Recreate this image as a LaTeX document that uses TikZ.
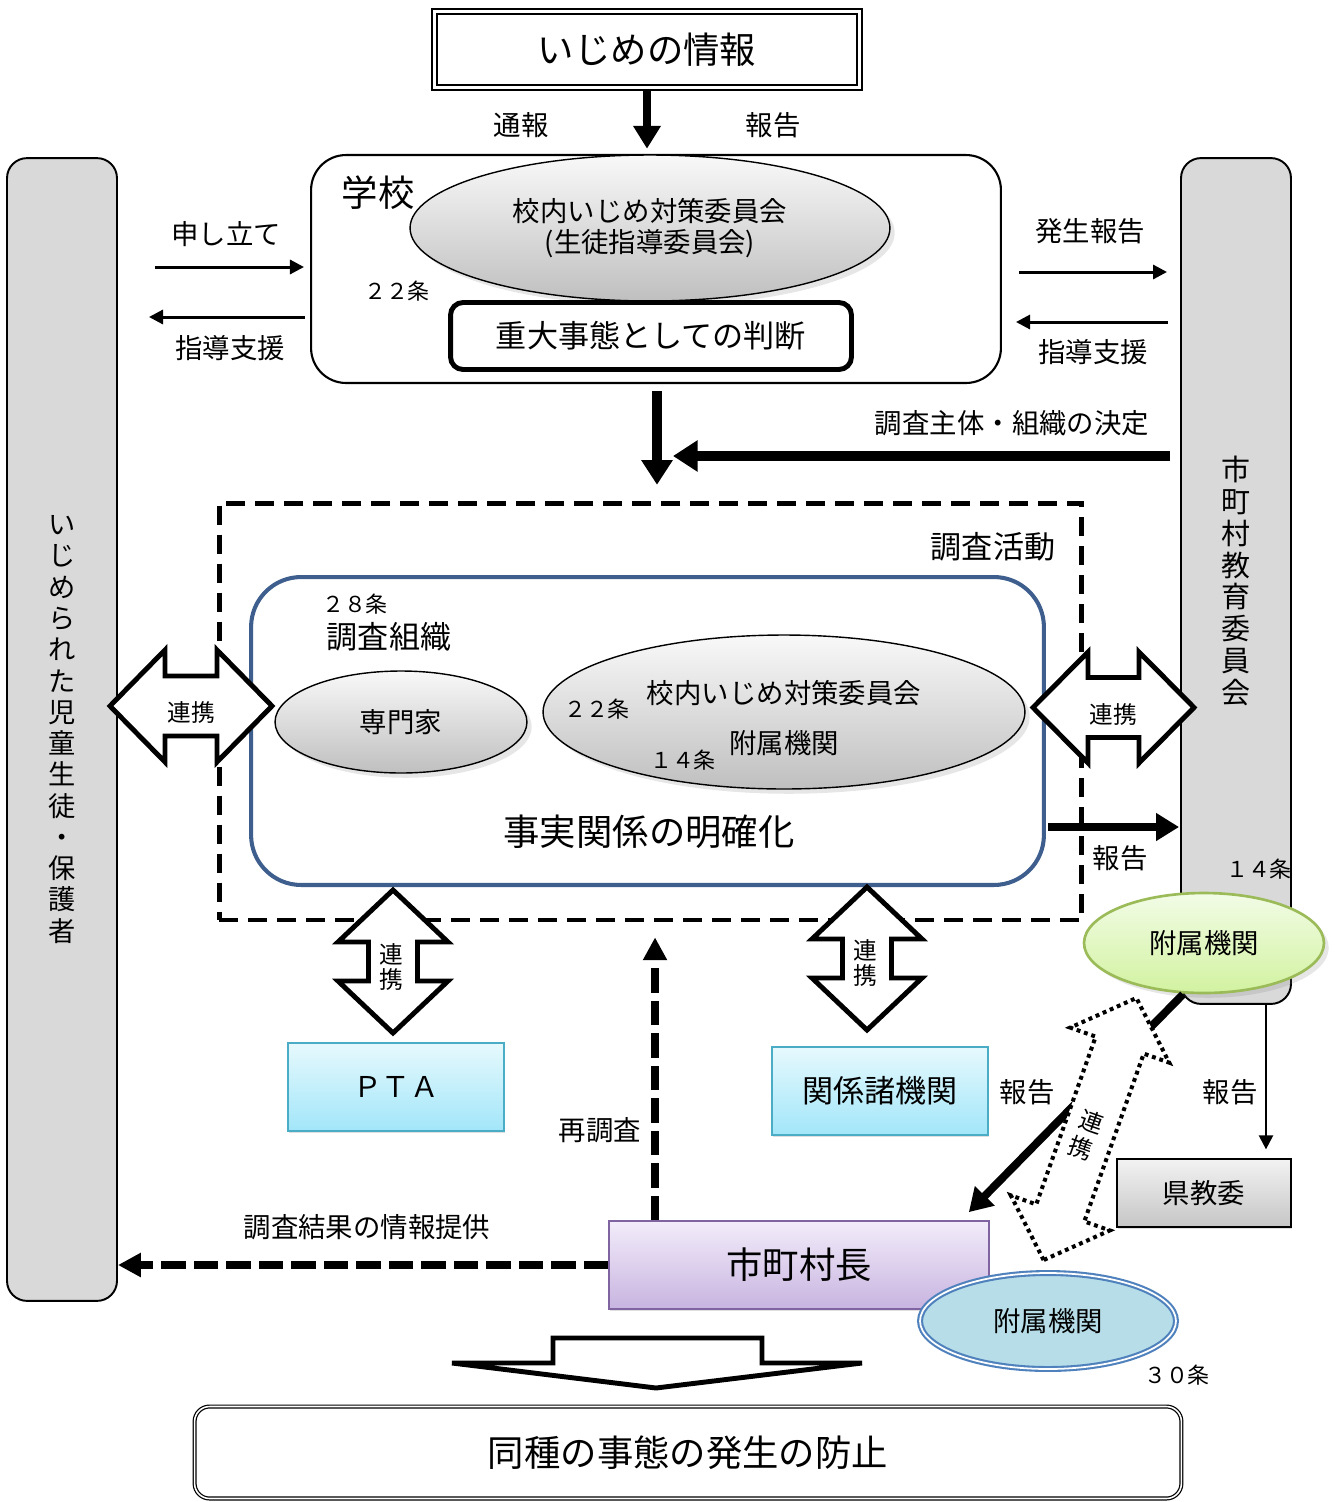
\documentclass[tikz,border=0pt]{standalone}
\usepackage{fontspec}
\setmainfont{Noto Sans CJK JP}
\usepackage{tikz}
\usetikzlibrary{arrows.meta, positioning, calc, shapes.geometric, shadows}

\definecolor{barGray}{HTML}{D9D9D9}
\definecolor{frameBlue}{HTML}{3E5F8E}
\definecolor{ptaLine}{HTML}{4BACC6}
\definecolor{ptaTop}{HTML}{E6F9FD}
\definecolor{ptaBottom}{HTML}{A2E6F9}
\definecolor{mayorLine}{HTML}{8064A2}
\definecolor{mayorTop}{HTML}{F2ECFA}
\definecolor{mayorBottom}{HTML}{C8B4E0}
\definecolor{annexGreenLine}{HTML}{9BBB59}
\definecolor{annexGreenTop}{HTML}{F2FCE6}
\definecolor{annexGreenBottom}{HTML}{D2F2A0}
\definecolor{annexBlue}{HTML}{B7DEE8}
\definecolor{annexBlueLine}{HTML}{4F81BD}

\tikzset{
  txtS/.style={font=\fontsize{12.5}{15}\selectfont},
  txtM/.style={font=\fontsize{15.6}{18}\selectfont},
  txtL/.style={font=\fontsize{17.7}{21}\selectfont},
  txtXL/.style={font=\fontsize{20.7}{25}\selectfont},
  linkTxt/.style={font=\fontsize{13.5}{14.5}\selectfont, align=center},
  grayOval/.style={ellipse, draw, line width=0.8pt, top color=gray!5, bottom color=gray!50, drop shadow={opacity=0.2}},
  sideBar/.style={draw, line width=1.1pt, fill=barGray, rounded corners=0.4cm, minimum width=2.2cm, align=center},
  glossBox/.style={rectangle, line width=1pt, drop shadow={opacity=0.25, shadow xshift=0.6pt, shadow yshift=-1.2pt}},
  thinArrow/.style={line width=1.7pt, -{Triangle[length=8pt,width=8pt]}},
  boldArrow/.style={line width=4.5pt, -{Triangle[length=13pt,width=15pt]}},
  heavyArrow/.style={line width=5.8pt, -{Triangle[length=14pt,width=17pt]}},
  dashArrow/.style={line width=4.4pt, dash pattern=on 14pt off 4.5pt, -{Triangle[length=13pt,width=13pt]}},
  linkArrow/.style={draw, fill=white, line width=2.8pt, line join=miter},
  pics/twoway/.style n args={4}{code={
    \draw[fill=white, pic actions] ({-#1/2},0) -- ({-#1/2+#4},{-#2/2}) -- ({-#1/2+#4},{-#3/2})
      -- ({#1/2-#4},{-#3/2}) -- ({#1/2-#4},{-#2/2}) -- ({#1/2},0)
      -- ({#1/2-#4},{#2/2}) -- ({#1/2-#4},{#3/2}) -- ({-#1/2+#4},{#3/2})
      -- ({-#1/2+#4},{#2/2}) -- cycle;
  }},
}

\begin{document}
\begin{tikzpicture}[x=0.02cm, y=-0.02cm, every node/.style={txtM}]
    \useasboundingbox (0,0) rectangle (1335,1502);

    % Define nodes: top part
    \node[draw, double, double distance=1.8pt, line width=0.9pt, minimum width=8.5cm, minimum height=1.52cm, txtXL] (info) at (647,49.5) {いじめの情報};
    \node[draw, line width=1.2pt, rounded corners=0.7cm, minimum width=13.8cm, minimum height=4.56cm] (school) at (656,269) {};
    \node[txtXL] at (378,193) {学校};
    \node[grayOval, minimum width=9.6cm, minimum height=2.92cm, align=center, font=\fontsize{15.6}{17.6}\selectfont] (committee) at (650,228) {校内いじめ対策委員会\\(生徒指導委員会)};
    \node[txtS] at (397,291) {２２条};
    \node[draw, fill=white, line width=2.8pt, rounded corners=0.25cm, minimum width=8.02cm, minimum height=1.34cm, txtL] (judge) at (651,336) {重大事態としての判断};

    % Define the two side bars
    \node[sideBar, minimum height=22.86cm, font=\fontsize{15.5}{17.8}\selectfont] (victim) at (62,729.5) {い\\じ\\め\\ら\\れ\\た\\児\\童\\生\\徒\\・\\保\\護\\者};
    \node[sideBar, minimum height=16.92cm, font=\fontsize{16.5}{18.1}\selectfont] (board) at (1236,581) {市\\町\\村\\教\\育\\委\\員\\会};

    % Arrows between the school and the side bars
    \coordinate (appealS) at (155,267);
    \coordinate (guideL) at (305,317);
    \coordinate (occurS) at (1019,272);
    \coordinate (guideR) at (1168,322);
    \draw[thinArrow] (appealS) -- ([xshift=-0.12cm]appealS -| school.west);
    \draw[thinArrow] (guideL) -- ([xshift=0.62cm]guideL -| victim.east);
    \draw[thinArrow] (occurS) -- ([xshift=-0.26cm]occurS -| board.west);
    \draw[thinArrow] (guideR) -- ([xshift=0.28cm]guideR -| school.east);
    \node at (226,234) {申し立て};
    \node at (230,348) {指導支援};
    \node at (1090,231) {発生報告};
    \node at (1093,352) {指導支援};

    \draw[boldArrow, shorten <=1.5pt, shorten >=3pt] (info.south) -- (info.south |- school.north);
    \node at (521,125) {通報};
    \node at (773,125) {報告};

    % Investigation frame
    \node[draw, line width=2.8pt, dash pattern=on 11pt off 5.5pt, minimum width=17.26cm, minimum height=8.34cm] (probe) at (650.5,711.5) {};
    \node[txtL] at (993,547) {調査活動};
    \draw[heavyArrow, shorten <=4pt, shorten >=9pt] ([xshift=0.02cm]school.south) -- ([xshift=0.02cm]school.south |- probe.north);
    \coordinate (decideR) at (1170,456);
    \draw[heavyArrow] (decideR) -- ([xshift=0.34cm]decideR -| school.south);
    \node at (1012,423) {調査主体・組織の決定};

    \node[draw=frameBlue, line width=2.3pt, rounded corners=1cm, minimum width=15.86cm, minimum height=6.16cm] (fact) at (647.5,731) {};
    \node[txtS] at (355,604) {２８条};
    \node[txtL] at (389,637) {調査組織};
    \node[grayOval, minimum width=5.04cm, minimum height=2.04cm] (expert) at (401,722) {専門家};
    \node[grayOval, minimum width=9.64cm, minimum height=3.08cm] (orgCommittee) at (784,712) {};
    \node at (784,693) {校内いじめ対策委員会};
    \node at (784,743) {附属機関};
    \node[txtS] at (597,709) {２２条};
    \node[txtS] at (683,760) {１４条};
    \node[txtXL] at (649,832) {事実関係の明確化};

    % Link arrows
    \pic[linkArrow] at (191,706) {twoway={162}{112}{60}{55}};
    \node[linkTxt] at (191,712) {連携};
    \pic[linkArrow] at (1113.5,707.5) {twoway={161}{111}{60}{55}};
    \node[linkTxt] at (1113,714) {連携};

    \coordinate (reportS) at (1048,827);
    \draw[boldArrow] (reportS) -- ([xshift=-0.02cm]reportS -| board.west);
    \node at (1120,858) {報告};
    \node[txtS] at (1259,869) {１４条};

    \node[ellipse, draw=annexGreenLine, line width=1.5pt, top color=annexGreenTop, bottom color=annexGreenBottom, minimum width=4.8cm, minimum height=2cm, drop shadow={opacity=0.2}] (boardAnnex) at (1204,943) {附属機関};

    \pic[linkArrow, rotate=90] at (393,961.5) {twoway={143}{110}{49}{52}};
    \node[linkTxt] at (391,967) {連\\携};
    \pic[linkArrow, rotate=90] at (867,958.5) {twoway={143}{110}{49}{52}};
    \node[linkTxt] at (865,963) {連\\携};

    % Lower boxes
    \node[glossBox, draw=ptaLine, top color=ptaTop, bottom color=ptaBottom, minimum width=4.32cm, minimum height=1.76cm, font=\fontsize{16.3}{19}\selectfont] (pta) at (396,1087) {ＰＴＡ};
    \node[glossBox, draw=ptaLine, top color=ptaTop, bottom color=ptaBottom, minimum width=4.32cm, minimum height=1.76cm, txtL] (agencies) at (880,1091) {関係諸機関};
    \node[glossBox, draw=mayorLine, top color=mayorTop, bottom color=mayorBottom, minimum width=7.6cm, minimum height=1.76cm, txtXL] (mayor) at (799,1265) {市町村長};
    \node[glossBox, draw=black, top color=gray!10, bottom color=gray!45, minimum width=3.48cm, minimum height=1.36cm] (pref) at (1204,1193) {県教委};
    \node[ellipse, draw=annexBlueLine, double=white, double distance=1pt, line width=1.2pt, fill=annexBlue, minimum width=5.12cm, minimum height=1.92cm] (mayorAnnex) at (1048,1321) {附属機関};
    \node[txtS] at (1177,1375) {３０条};

    % Arrows from the mayor
    \draw[dashArrow, shorten >=8.5pt] ([xshift=-2.88cm]mayor.north) -- ([xshift=-2.88cm]mayor.north |- probe.south);
    \node at (600,1130) {再調査};
    \draw[dashArrow] (mayor.west) -- (mayor.west -| victim.east);
    \node at (367,1227) {調査結果の情報提供};

    \draw[boldArrow] ([xshift=-0.42cm]boardAnnex.south) -- ([shift={(-21,-8)}]mayor.north east);
    \node at (1027,1092) {報告};
    \pic[linkArrow, dash pattern=on 2.2pt off 2.2pt, line width=2.3pt, rotate=70.5] at (1090,1129) {twoway={278}{105}{51}{50}};
    \node[linkTxt, rotate=-19.5] at (1092,1122) {連};
    \node[linkTxt, rotate=-19.5] at (1081,1148) {携};

    \draw[thinArrow, line width=1.4pt, shorten >=5pt] ([xshift=0.6cm]board.south) -- ([xshift=0.6cm]board.south |- pref.north);
    \node at (1230,1092) {報告};

    % Result
    \draw[line width=2.8pt, fill=white, line join=miter] (553,1338) -- (762,1338) -- (762,1363) -- (862,1363) -- (656,1388) -- (452,1363) -- (553,1363) -- cycle;
    \node[draw, double, double distance=0.9pt, line width=0.7pt, rounded corners=0.3cm, minimum width=19.74cm, minimum height=1.84cm, txtXL] (prevent) at (688,1452.5) {同種の事態の発生の防止};

\end{tikzpicture}
\end{document}
